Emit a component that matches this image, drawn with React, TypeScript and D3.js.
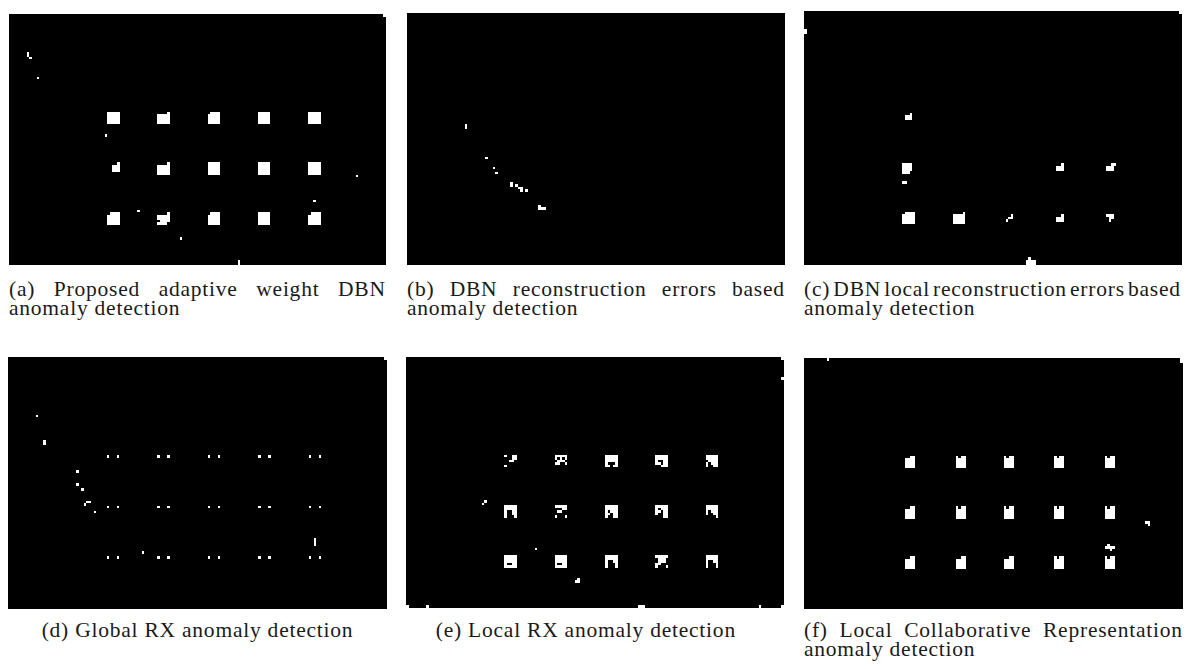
import React, { useEffect, useRef } from "react";
import * as d3 from "d3";

// ---- image grid (each panel is a 150 x 100 binary detection map) ----
const IMG_W = 150;
const IMG_H = 100;
const targetCols = [39, 59, 79, 99, 119];
const targetRows = [39, 59, 79];

// 5x5 target masks, row-major R1C1..R3C5 ("/" separates mask rows)
const FULL = "11111/11111/11111/11111/11111";
const patternsA = [
  FULL, "00001/11111/11111/11111/11111", "01111/11111/11111/11111/11111", FULL, FULL,
  "00001/00111/00111/00111/00000", "00001/11111/11111/11111/11111", FULL, FULL, FULL,
  "01111/11111/11111/11111/11111", "00001/11111/11111/01111/11110", "01111/11111/11111/11111/11111", FULL, "01111/11111/11111/11111/11111",
];
const patternsB: string[] = [];
const EMPTY = "00000/00000/00000/00000/00000";
const patternsC = [
  "00000/00010/01110/01110/00000", EMPTY, EMPTY, EMPTY, EMPTY,
  "00000/11110/11110/11110/11100", EMPTY, EMPTY, "00000/00010/01110/01110/00000", "00000/00011/01110/01110/00000",
  "01111/11111/11111/11111/11111", "00001/11111/11111/11111/11111", "00000/00010/00110/01000/00000", "00000/00010/01110/01110/00000", "00000/01110/00110/00100/00000",
];
const DOTS = "10001/00000/00000/00000/00000";
const patternsD = Array.from({ length: 15 }, () => DOTS);
const patternsE = [
  "10011/00011/00110/00000/10000", "11111/10101/01110/11001/00000", "11111/11111/11111/10001/11011", "11111/11111/10011/11011/00111", "11111/11111/01111/10111/10011",
  "11111/11111/10011/10011/10001", "11111/00011/01100/00000/10001", "11111/11111/10111/11011/10011", "11111/10111/11011/10011/00011", "11111/11111/10111/10011/00001",
  "11111/11111/11111/10011/11111", "11111/11111/11111/10011/11111", "11111/11111/10011/10001/10001", "11111/01110/01110/11000/10001", "11111/11111/10011/10001/10001",
];
const patternsF = [
  "00011/01111/01111/01111/01111", "01011/01111/01111/01111/01111", "10110/11110/11110/11110/11110", "10110/11110/11110/11110/11110", "10110/11110/11110/11110/11110",
  "00011/01111/01111/01111/01111", "01011/01111/01111/01111/01111", "10110/11110/11110/11110/11110", "10110/11110/11110/11110/11110", "10110/11110/11110/11110/11110",
  "00011/01111/01111/01111/01111", "00011/01111/01111/01111/01111", "00110/11110/11110/11110/11110", "10110/11110/11110/11110/11110", "10110/11110/11110/11110/11110",
];

// isolated detections: [col, row, width, height] in image pixels
type Cell = [number, number, number, number];
const extrasA: Cell[] = [[149, 0, 1, 1], [7, 15, 1, 2], [8, 17, 1, 1], [11, 25, 1, 1], [38, 48, 1, 1], [138, 64, 1, 1], [121, 74, 1, 1], [51, 78, 1, 1], [68, 89, 1, 1], [91, 98, 1, 2]];
const extrasB: Cell[] = [[23, 44, 1, 2], [31, 57, 1, 1], [34, 61, 1, 1], [35, 63, 1, 1], [41, 67, 1, 2], [43, 68, 1, 1], [44, 69, 2, 1], [45, 70, 1, 1], [47, 70, 1, 1], [52, 76, 1, 1], [52, 77, 3, 1]];
const extrasC: Cell[] = [[0, 7, 1, 2], [149, 0, 1, 1], [39, 67, 2, 1], [89, 97, 1, 1], [88, 98, 4, 2]];
const extrasD: Cell[] = [[149, 0, 1, 1], [11, 23, 1, 1], [14, 33, 1, 2], [27, 45, 1, 1], [27, 50, 1, 1], [29, 52, 1, 1], [31, 57, 2, 1], [30, 58, 1, 1], [34, 61, 1, 1], [53, 77, 1, 1], [121, 72, 1, 3]];
const extrasE: Cell[] = [[149, 0, 1, 1], [149, 8, 1, 1], [31, 57, 1, 1], [30, 58, 1, 1], [51, 76, 1, 1], [68, 88, 1, 1], [67, 89, 2, 1], [0, 99, 1, 1], [8, 99, 1, 1], [92, 99, 3, 1], [140, 99, 1, 1], [149, 99, 1, 1]];
const extrasF: Cell[] = [[9, 0, 1, 1], [149, 0, 1, 2], [135, 65, 2, 1], [136, 66, 1, 1], [120, 74, 1, 1], [119, 75, 4, 1], [121, 76, 1, 1]];

// captions
const captionA = ["(a) Proposed adaptive weight DBN", "anomaly detection"];
const captionB = ["(b) DBN reconstruction errors based", "anomaly detection"];
const captionC = ["(c) DBN local reconstruction errors based", "anomaly detection"];
const captionD = ["(d) Global RX anomaly detection"];
const captionE = ["(e) Local RX anomaly detection"];
const captionF = ["(f) Local Collaborative Representation", "anomaly detection"];

// ---- layout ----
const W = 1187;
const H = 669;
const FONT = "'Liberation Serif', serif";
const FONT_SIZE = 21.5;
const LINE_GAP = 19;

type Panel = {
  patterns: string[];
  extras: Cell[];
  caption: string[];
  box: { x: number; y: number; w: number; h: number };
  cap: { x0: number; x1: number; y: number; mode: "justify" | "center" };
};

const PANELS: Panel[] = [
  { patterns: patternsA, extras: extrasA, caption: captionA, box: { x: 9, y: 14, w: 377, h: 251 }, cap: { x0: 9, x1: 385, y: 296, mode: "justify" } },
  { patterns: patternsB, extras: extrasB, caption: captionB, box: { x: 407, y: 13, w: 378, h: 252 }, cap: { x0: 407, x1: 784, y: 296, mode: "justify" } },
  { patterns: patternsC, extras: extrasC, caption: captionC, box: { x: 804, y: 11, w: 378, h: 254 }, cap: { x0: 804, x1: 1180, y: 296, mode: "justify" } },
  { patterns: patternsD, extras: extrasD, caption: captionD, box: { x: 8, y: 357, w: 379, h: 252 }, cap: { x0: 41.7, x1: 353.3, y: 636.5, mode: "center" } },
  { patterns: patternsE, extras: extrasE, caption: captionE, box: { x: 406, y: 357, w: 378, h: 251 }, cap: { x0: 436.7, x1: 735, y: 636.5, mode: "center" } },
  { patterns: patternsF, extras: extrasF, caption: captionF, box: { x: 804, y: 358, w: 379, h: 251 }, cap: { x0: 804, x1: 1182, y: 636.5, mode: "justify" } },
];

function expand(patterns: string[]): Cell[] {
  const cells: Cell[] = [];
  patterns.forEach((p, i) => {
    const c0 = targetCols[i % 5];
    const r0 = targetRows[Math.floor(i / 5)];
    p.split("/").forEach((line, r) => {
      let c = 0;
      while (c < line.length) {
        if (line[c] === "1") {
          let e = c;
          while (e < line.length && line[e] === "1") e++;
          cells.push([c0 + c, r0 + r, e - c, 1]);
          c = e;
        } else c++;
      }
    });
  });
  return cells;
}

export default function App() {
  const ref = useRef<SVGSVGElement>(null);

  useEffect(() => {
    const svg = d3.select(ref.current as SVGSVGElement);
    svg.selectAll("*").remove();
    svg.append("rect").attr("width", W).attr("height", H).attr("fill", "#fff");

    // letter spacing fitted so caption (d) spans its reference width
    const probe = svg.append("text").attr("font-family", FONT).attr("font-size", FONT_SIZE).text(captionD[0]);
    const pw = (probe.node() as SVGTextElement).getComputedTextLength();
    probe.remove();
    const ls = Math.max(0, (311.7 - pw) / captionD[0].length);

    PANELS.forEach((p) => {
      const xs = d3.scaleLinear().domain([0, IMG_W]).range([p.box.x, p.box.x + p.box.w]);
      const ys = d3.scaleLinear().domain([0, IMG_H]).range([p.box.y, p.box.y + p.box.h]);
      const g = svg.append("g");
      g.append("rect")
        .attr("x", xs(0)).attr("y", ys(0))
        .attr("width", xs(IMG_W) - xs(0)).attr("height", ys(IMG_H) - ys(0))
        .attr("fill", "#000");
      const cells = [...expand(p.patterns), ...p.extras];
      g.selectAll("rect.cell")
        .data(cells)
        .join("rect")
        .attr("class", "cell")
        .attr("x", (d) => xs(d[0]))
        .attr("y", (d) => ys(d[1]))
        .attr("width", (d) => xs(d[0] + d[2]) - xs(d[0]))
        .attr("height", (d) => ys(d[1] + d[3]) - ys(d[1]))
        .attr("fill", "#fff")
        .attr("shape-rendering", "crispEdges");

      // caption
      const tg = svg.append("g")
        .attr("font-family", FONT)
        .attr("font-size", FONT_SIZE)
        .attr("letter-spacing", ls)
        .attr("fill", "#1a1a1a");
      p.caption.forEach((line, li) => {
        const y = p.cap.y + li * LINE_GAP;
        if (p.cap.mode === "center") {
          tg.append("text").attr("x", (p.cap.x0 + p.cap.x1) / 2).attr("y", y).attr("text-anchor", "middle").text(line);
        } else if (li === 0 && p.caption.length > 1) {
          const words = line.split(" ");
          const nodes = words.map((w) => tg.append("text").attr("y", y).text(w));
          const widths = nodes.map((n) => (n.node() as SVGTextElement).getComputedTextLength() - ls);
          const total = d3.sum(widths);
          const gap = (p.cap.x1 - p.cap.x0 - total) / (words.length - 1);
          let x = p.cap.x0;
          nodes.forEach((n, i) => {
            n.attr("x", x);
            x += widths[i] + gap;
          });
        } else {
          tg.append("text").attr("x", p.cap.x0).attr("y", y).text(line);
        }
      });
    });
  }, []);

  return (
    <svg
      ref={ref}
      width={W}
      height={H}
      style={{ position: "absolute", left: 0, top: 0, display: "block" }}
    />
  );
}
